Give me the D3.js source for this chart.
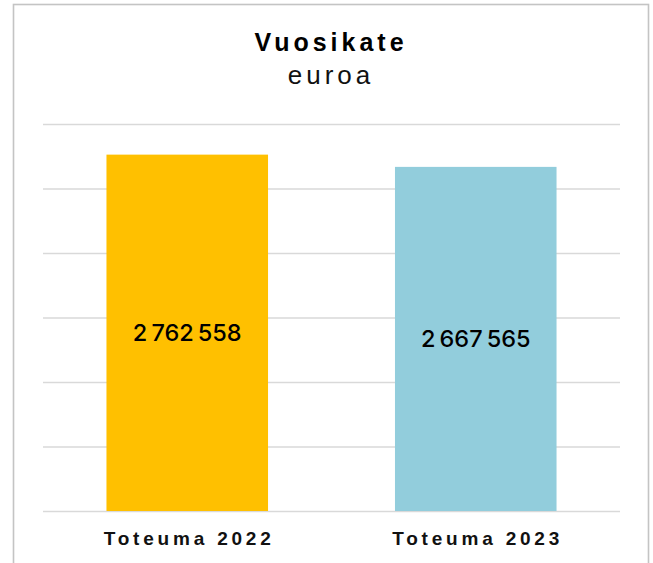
<!DOCTYPE html>
<html>
<head>
<meta charset="utf-8">
<script src="https://cdn.jsdelivr.net/npm/d3@7"></script>
<style>
  html, body { margin: 0; padding: 0; background: #fff; }
  text { font-family: "Liberation Sans", Arial, sans-serif; }
</style>
</head>
<body>
<svg id="chart"></svg>
<script>
const categories = ["Toteuma 2022", "Toteuma 2023"];
const values = [2762558, 2667565];
const barColors = ["#FFC000", "#92CDDC"];
const yTicks = [0, 500000, 1000000, 1500000, 2000000, 2500000, 3000000];
const title = "Vuosikate";
const subtitle = "euroa";

const W = 653, H = 563;
const svg = d3.select("#chart").attr("width", W).attr("height", H);

// chart frame (bottom edge runs off the page)
svg.append("rect")
    .attr("x", 13.5).attr("y", 4.5)
    .attr("width", 635).attr("height", 620)
    .attr("fill", "#fff")
    .attr("stroke", "#c4c4c4")
    .attr("stroke-width", 1.6);

const plot = {left: 43, right: 620, top: 124, bottom: 511};

const x = d3.scaleBand()
    .domain(categories)
    .range([plot.left, plot.right])
    .paddingInner(0.44)
    .paddingOuter(0.22);

const y = d3.scaleLinear()
    .domain([0, 3000000])
    .range([plot.bottom, plot.top]);

// gridlines
const grid = svg.append("g")
    .attr("transform", `translate(${plot.left},0)`)
    .call(d3.axisLeft(y).tickValues(yTicks).tickSize(-(plot.right - plot.left)).tickFormat(""));
grid.select(".domain").remove();
grid.selectAll(".tick line")
    .attr("stroke", "#d9d9d9")
    .attr("stroke-width", 1.5);

svg.append("g")
    .selectAll("rect")
    .data(values)
    .join("rect")
        .attr("x", (d, i) => x(categories[i]))
        .attr("y", d => y(d))
        .attr("width", x.bandwidth())
        .attr("height", d => y(0) - y(d))
        .attr("fill", (d, i) => barColors[i]);

const fmt = v => d3.format(",")(v).replace(/,/g, "\u2009");

svg.append("g")
    .selectAll("text")
    .data(values)
    .join("text")
        .attr("x", (d, i) => x(categories[i]) + x.bandwidth() / 2)
        .attr("y", d => (y(d) + y(0)) / 2)
        .attr("dy", "0.36em")
        .attr("text-anchor", "middle")
        .style("font-family", "Inter, sans-serif")
        .attr("font-size", 23.5)
        .attr("font-weight", 500)
        .attr("fill", "#000")
        .text(fmt);

// category labels
svg.append("g")
    .selectAll("text")
    .data(categories)
    .join("text")
        .attr("x", d => x(d) + x.bandwidth() / 2 + 1.9)
        .attr("y", 545)
        .attr("text-anchor", "middle")
        .attr("font-size", 19)
        .attr("font-weight", "bold")
        .attr("letter-spacing", 3.8)
        .attr("fill", "#111")
        .text(d => d);

svg.append("text")
    .attr("x", 331)
    .attr("y", 51)
    .attr("text-anchor", "middle")
    .attr("font-size", 25)
    .attr("font-weight", "bold")
    .attr("letter-spacing", 4)
    .attr("fill", "#000")
    .text(title);

svg.append("text")
    .attr("x", 331)
    .attr("y", 84)
    .attr("text-anchor", "middle")
    .attr("font-size", 26)
    .attr("letter-spacing", 4)
    .attr("fill", "#111")
    .text(subtitle);
</script>
</body>
</html>
